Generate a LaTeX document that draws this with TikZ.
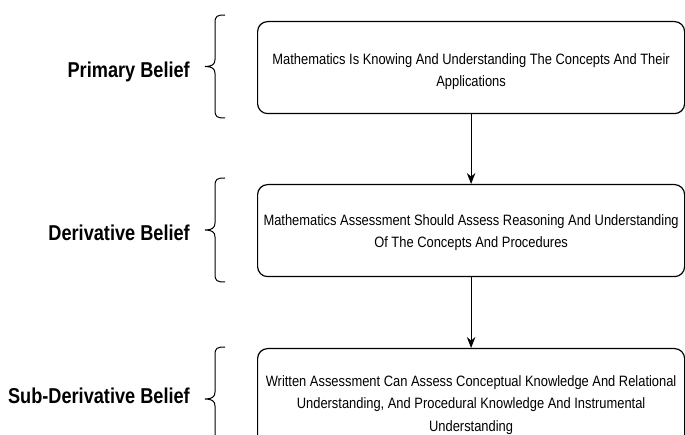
\documentclass[tikz,border=0pt]{standalone}
\usepackage{fontspec}
\newfontfamily\boxfont{Liberation Sans}[FakeStretch=0.86]
\newfontfamily\labfont{Liberation Sans}[FakeStretch=0.845]
\usetikzlibrary{arrows.meta}
\tikzset{
  beliefbox/.style={draw=black, line width=1.2pt, rounded corners=10pt, minimum width=427pt, minimum height=92pt, anchor=north west, inner sep=0pt},
  boxtext/.style={align=center, font=\boxfont\fontsize{15}{22.5}\selectfont, inner sep=0pt},
  beliefl/.style={anchor=east, font=\labfont\bfseries\fontsize{21.5}{26}\selectfont, inner sep=0pt},
  bracel/.style={draw=black, line width=1pt},
  flow/.style={draw=black, line width=1pt, -{Stealth[length=11pt,width=8.5pt]}}
}
\begin{document}
\begin{tikzpicture}[x=1pt,y=-1pt]
\useasboundingbox (0,0) rectangle (685,435);
\clip (0,0) rectangle (685,435);
% boxes
\node[beliefbox] (b1) at (257,21) {};
\node[beliefbox] (b2) at (257,184) {};
\node[beliefbox, minimum height=106pt] (b3) at (257,348) {};
\node[boxtext] (t1) at ([yshift=-4pt]b1.center) {Mathematics Is Knowing And Understanding The Concepts And Their\\Applications};
\node[boxtext] (t2) at ([yshift=-2pt]b2.center) {Mathematics Assessment Should Assess Reasoning And Understanding\\Of The Concepts And Procedures};
\node[boxtext] (t3) at ([yshift=-3.5pt]b3.center) {Written Assessment Can Assess Conceptual Knowledge And Relational\\Understanding, And Procedural Knowledge And Instrumental\\Understanding};
% arrows
\draw[flow] (b1.south) -- (b2.north);
\draw[flow] (b2.south) -- (b3.north);
% braces
\foreach \n/\ya/\yb in {1/15/118, 2/178/282, 3/347/451}{
  \pgfmathsetmacro{\ym}{(\ya+\yb)/2}
  \coordinate (br\n) at (205,\ym);
  \draw[bracel] (225,\ya) .. controls (217,\ya) and (215,\ya+1) .. (215,\ya+8)
    -- (215,\ym-7) .. controls (215,\ym-2) and (212,\ym) .. (br\n)
    (br\n) .. controls (212,\ym) and (215,\ym+2) .. (215,\ym+7)
    -- (215,\yb-8) .. controls (215,\yb-1) and (217,\yb) .. (225,\yb);
}
% labels
\node[beliefl] (l1) at (190,72) {Primary Belief};
\node[beliefl] (l2) at (190,233) {Derivative Belief};
\node[beliefl] (l3) at (190,396) {Sub-Derivative Belief};
\end{tikzpicture}
\end{document}
